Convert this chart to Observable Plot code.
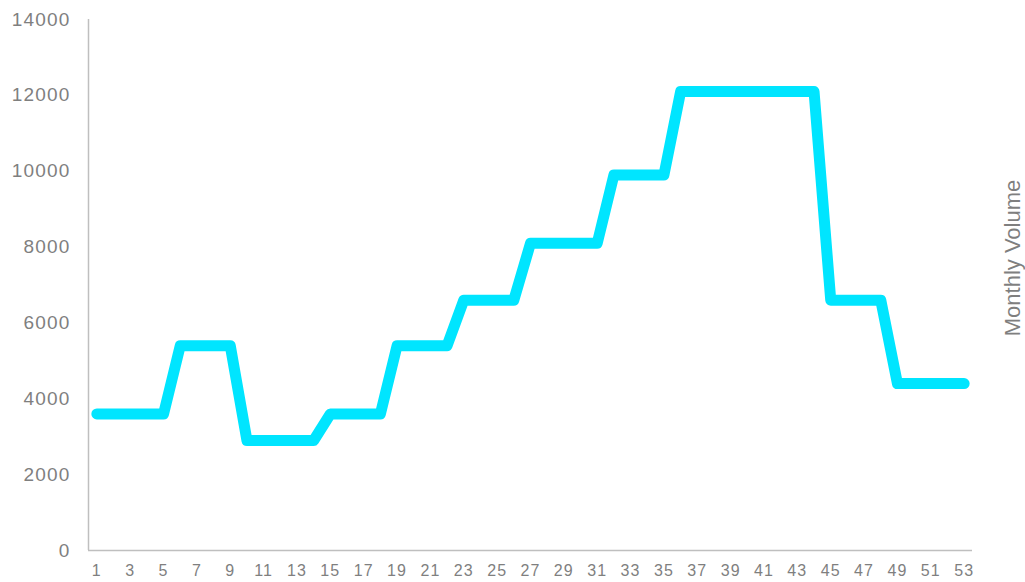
<!DOCTYPE html>
<html>
<head>
<meta charset="utf-8">
<script src="https://cdn.jsdelivr.net/npm/d3@7"></script>
<script src="https://cdn.jsdelivr.net/npm/@observablehq/plot@0.6"></script>
<style>
  html, body { margin: 0; padding: 0; background: #fff; }
  #chart svg { display: block; }
</style>
</head>
<body>
<div id="chart"></div>
<script>
// Period index (1..53)
const periods = d3.range(1, 54);
// Monthly volume per period
const volumes = [
  3600, 3600, 3600, 3600, 3600,          // 1-5
  5400, 5400, 5400, 5400,                // 6-9
  2900, 2900, 2900, 2900, 2900,          // 10-14
  3600, 3600, 3600, 3600,                // 15-18
  5400, 5400, 5400, 5400,                // 19-22
  6600, 6600, 6600, 6600,                // 23-26
  8100, 8100, 8100, 8100, 8100,          // 27-31
  9900, 9900, 9900, 9900,                // 32-35
  12100, 12100, 12100, 12100, 12100, 12100, 12100, 12100, 12100, // 36-44
  6600, 6600, 6600, 6600,                // 45-48
  4400, 4400, 4400, 4400, 4400           // 49-53
];
const xTicks = d3.range(1, 54, 2);
const yTicks = d3.range(0, 14001, 2000);
const yLabel = "Monthly Volume";

const data = periods.map((p, i) => ({period: p, volume: volumes[i]}));

const W = 1025, H = 582;
const mL = 88, mR = 53, mT = 19, mB = 32;

const chart = Plot.plot({
  width: W,
  height: H,
  marginLeft: mL,
  marginRight: mR,
  marginTop: mT,
  marginBottom: mB,
  style: {fontFamily: "'Liberation Sans', Arial, sans-serif", background: "#fff"},
  x: {domain: [0.5, 53.5]},
  y: {domain: [0, 14000]},
  marks: [
    Plot.axisY({ticks: yTicks, tickSize: 0, tickPadding: 18, label: null,
      tickFormat: d => String(d), fontSize: 19, fill: "#7f7f7f"}),
    Plot.axisX({ticks: xTicks, tickSize: 0, tickPadding: 14, label: null,
      tickFormat: d => String(d), fontSize: 16, fill: "#7f7f7f"}),
    Plot.ruleX([0.5], {stroke: "#bfbfbf", strokeWidth: 1.5}),
    Plot.ruleY([0], {stroke: "#bfbfbf", strokeWidth: 1.5}),
    Plot.line(data, {x: "period", y: "volume", stroke: "#00e5ff", strokeWidth: 11,
      strokeLinejoin: "round", strokeLinecap: "round"}),
    Plot.text([yLabel], {frameAnchor: "right", dx: 40, dy: -27, rotate: -90, text: d => d,
      textAnchor: "middle", lineAnchor: "middle", fontSize: 22, fill: "#7f7f7f"})
  ]
});
document.getElementById("chart").appendChild(chart);
chart.querySelectorAll("g[aria-label='y-axis tick label'] text")
  .forEach(t => t.setAttribute("letter-spacing", "1.2"));
chart.querySelectorAll("g[aria-label='x-axis tick label'] text")
  .forEach(t => t.setAttribute("letter-spacing", "1.1"));
</script>
</body>
</html>
